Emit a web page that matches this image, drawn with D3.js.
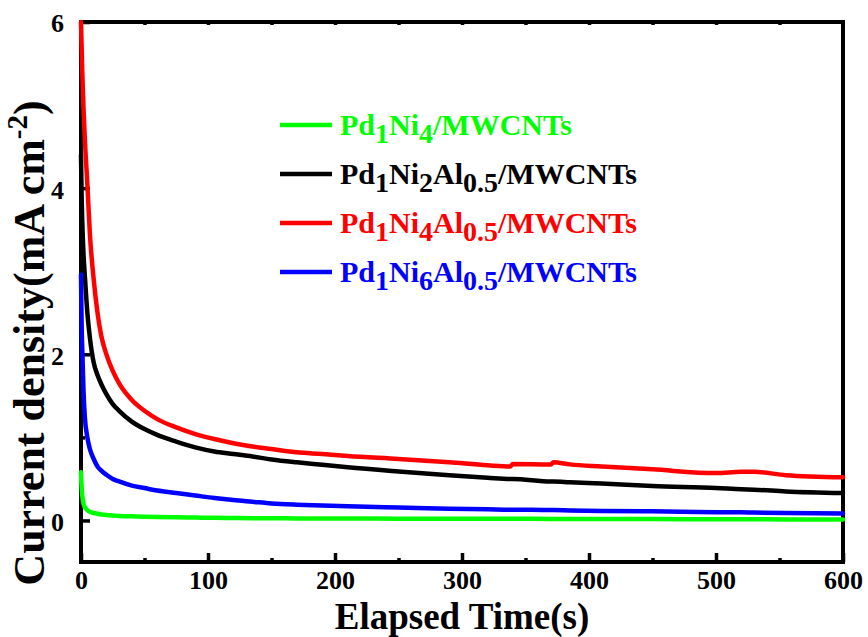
<!DOCTYPE html>
<html lang="en">
<head>
    <meta charset="UTF-8">
    <title>Current density vs time</title>
    <script src="https://cdn.jsdelivr.net/npm/d3@7"></script>
    <style>
        body { margin: 0; background: #fff; }
        text { font-family: "Liberation Serif", "Times New Roman", serif; font-weight: bold; }
        .curve { fill: none; stroke-width: 4.5; stroke-linejoin: round; stroke-linecap: round; }
    </style>
</head>
<body>
<script>
    const width = 868;
    const height = 637;

    // elapsed time (s)
    const times = [0, 0.5, 1, 2, 3, 5, 7, 10, 13, 16, 20, 25, 30, 40, 50, 60, 75, 90, 105, 120,
        135, 150, 170, 190, 210, 250, 290, 320, 338, 340, 370, 372, 385, 410, 450, 500, 520, 530, 555, 600];

    // current density (mA cm-2)
    const pd1ni4 = [0.58, 0.4, 0.3, 0.2, 0.16, 0.125, 0.105, 0.09, 0.08, 0.072, 0.065, 0.06, 0.055, 0.05, 0.045, 0.042, 0.038, 0.035, 0.032, 0.03,
        0.028, 0.027, 0.025, 0.024, 0.023, 0.022, 0.02, 0.02, 0.02, 0.02, 0.019, 0.019, 0.018, 0.018, 0.017, 0.015, 0.015, 0.014, 0.013, 0.012];
    const pd1ni2al = [4.4, 3.9, 3.6, 3.2, 2.95, 2.5, 2.2, 1.9, 1.75, 1.64, 1.52, 1.4, 1.32, 1.19, 1.1, 1.03, 0.95, 0.88, 0.83, 0.8,
        0.77, 0.735, 0.7, 0.67, 0.64, 0.59, 0.545, 0.515, 0.5, 0.5, 0.47, 0.47, 0.46, 0.445, 0.415, 0.39, 0.375, 0.37, 0.35, 0.33];
    const pd1ni4al = [6.0, 5.7, 5.4, 4.95, 4.6, 4.05, 3.45, 2.9, 2.5, 2.22, 2.0, 1.8, 1.65, 1.45, 1.32, 1.22, 1.12, 1.04, 0.98, 0.93,
        0.89, 0.86, 0.82, 0.8, 0.775, 0.74, 0.7, 0.665, 0.65, 0.68, 0.675, 0.7, 0.675, 0.65, 0.615, 0.57, 0.585, 0.585, 0.545, 0.52];
    const pd1ni6al = [2.96, 2.35, 2.06, 1.55, 1.25, 1.0, 0.86, 0.74, 0.65, 0.6, 0.55, 0.5, 0.47, 0.42, 0.39, 0.36, 0.33, 0.3, 0.27, 0.245,
        0.225, 0.205, 0.19, 0.18, 0.17, 0.155, 0.14, 0.135, 0.13, 0.13, 0.125, 0.125, 0.12, 0.115, 0.11, 0.1, 0.098, 0.095, 0.09, 0.085];

    const labels = ["Pd_{1}Ni_{4}/MWCNTs", "Pd_{1}Ni_{2}Al_{0.5}/MWCNTs", "Pd_{1}Ni_{4}Al_{0.5}/MWCNTs", "Pd_{1}Ni_{6}Al_{0.5}/MWCNTs"];
    const colors = ["#00ff00", "#000000", "#ff0000", "#0000ff"];
    const seriesValues = [pd1ni4, pd1ni2al, pd1ni4al, pd1ni6al];
    const drawOrder = [1, 2, 3, 0];

    const xTicks = [0, 100, 200, 300, 400, 500, 600];
    const yTicks = [0, 2, 4, 6];

    const FONT = '"Liberation Serif", "Times New Roman", serif';

    const svg = d3.select("body").append("svg")
        .attr("width", width).attr("height", height)
        .attr("font-family", FONT);

    const x = d3.scaleLinear().domain([0, 600]).range([81, 843]);
    const y = d3.scaleLinear().domain([-0.5, 6]).range([562, 22]);

    // frame
    svg.append("rect")
        .attr("x", x(0)).attr("y", y(6))
        .attr("width", x(600) - x(0)).attr("height", y(-0.5) - y(6))
        .attr("fill", "none").attr("stroke", "#000").attr("stroke-width", 4);

    // inward ticks
    function styleAxis(g) {
        g.attr("font-family", FONT).attr("font-size", 26);
        g.select(".domain").remove();
        g.selectAll("line").attr("stroke", "#000").attr("stroke-width", 3.5);
        g.selectAll("text").attr("fill", "#000");
    }

    svg.append("g").attr("transform", `translate(0,${y(-0.5)})`)
        .call(d3.axisBottom(x).tickValues(xTicks).tickSize(-9).tickPadding(9).tickFormat(d3.format("d")))
        .call(styleAxis);
    svg.append("g").attr("transform", `translate(0,${y(-0.5)})`)
        .call(d3.axisBottom(x).tickValues(d3.range(50, 600, 100)).tickSize(-4).tickFormat(""))
        .call(styleAxis);
    svg.append("g").attr("transform", `translate(0,${y(6)})`)
        .call(d3.axisTop(x).tickValues(d3.range(50, 600, 50)).tickSize(-3).tickFormat(""))
        .call(styleAxis);

    const gy = svg.append("g").attr("transform", `translate(${x(0)},0)`);
    gy.call(d3.axisLeft(y).tickValues(yTicks).tickSize(-9).tickPadding(17).tickFormat(d3.format("d")))
        .call(styleAxis);
    gy.selectAll("text").attr("dy", "0.38em");
    svg.append("g").attr("transform", `translate(${x(0)},0)`)
        .call(d3.axisLeft(y).tickValues([1, 3, 5]).tickSize(-4).tickFormat(""))
        .call(styleAxis);

    // axis titles
    svg.append("text")
        .attr("x", (x(0) + x(600)) / 2).attr("y", 629)
        .attr("text-anchor", "middle").attr("font-size", 37)
        .text("Elapsed Time(s)");

    const yTitle = svg.append("text")
        .attr("transform", "translate(44,343) rotate(-90)")
        .attr("text-anchor", "middle").attr("font-size", 44);
    yTitle.append("tspan").text("Current density(mA cm");
    yTitle.append("tspan").attr("font-size", 29).attr("dy", -17).text("-2");
    yTitle.append("tspan").attr("dy", 17).text(")");

    // curves
    const line = d3.line()
        .x(d => x(d[0]))
        .y(d => y(d[1]))
        .curve(d3.curveMonotoneX);

    drawOrder.forEach(i => {
        const pts = times.map((t, k) => [t, seriesValues[i][k]]);
        svg.append("path")
            .attr("class", "curve")
            .attr("stroke", colors[i])
            .attr("d", line(pts));
    });

    // legend
    const legendY = d3.scaleLinear().domain([0, 3]).range([125, 272]);
    labels.forEach((lab, i) => {
        const ly = legendY(i);
        svg.append("line")
            .attr("x1", 280).attr("x2", 332)
            .attr("y1", ly).attr("y2", ly)
            .attr("stroke", colors[i]).attr("stroke-width", 4.5);
        const t = svg.append("text")
            .attr("x", 340).attr("y", ly + 10)
            .attr("font-size", 30).attr("fill", colors[i]);
        const parts = lab.split(/_\{([^}]*)\}/);
        parts.forEach((p, k) => {
            if (p === "") return;
            if (k % 2 === 1) {
                t.append("tspan").attr("font-size", 28).attr("dy", 8).text(p);
            } else {
                t.append("tspan").attr("dy", k > 0 ? -8 : 0).text(p);
            }
        });
    });
</script>
</body>
</html>
